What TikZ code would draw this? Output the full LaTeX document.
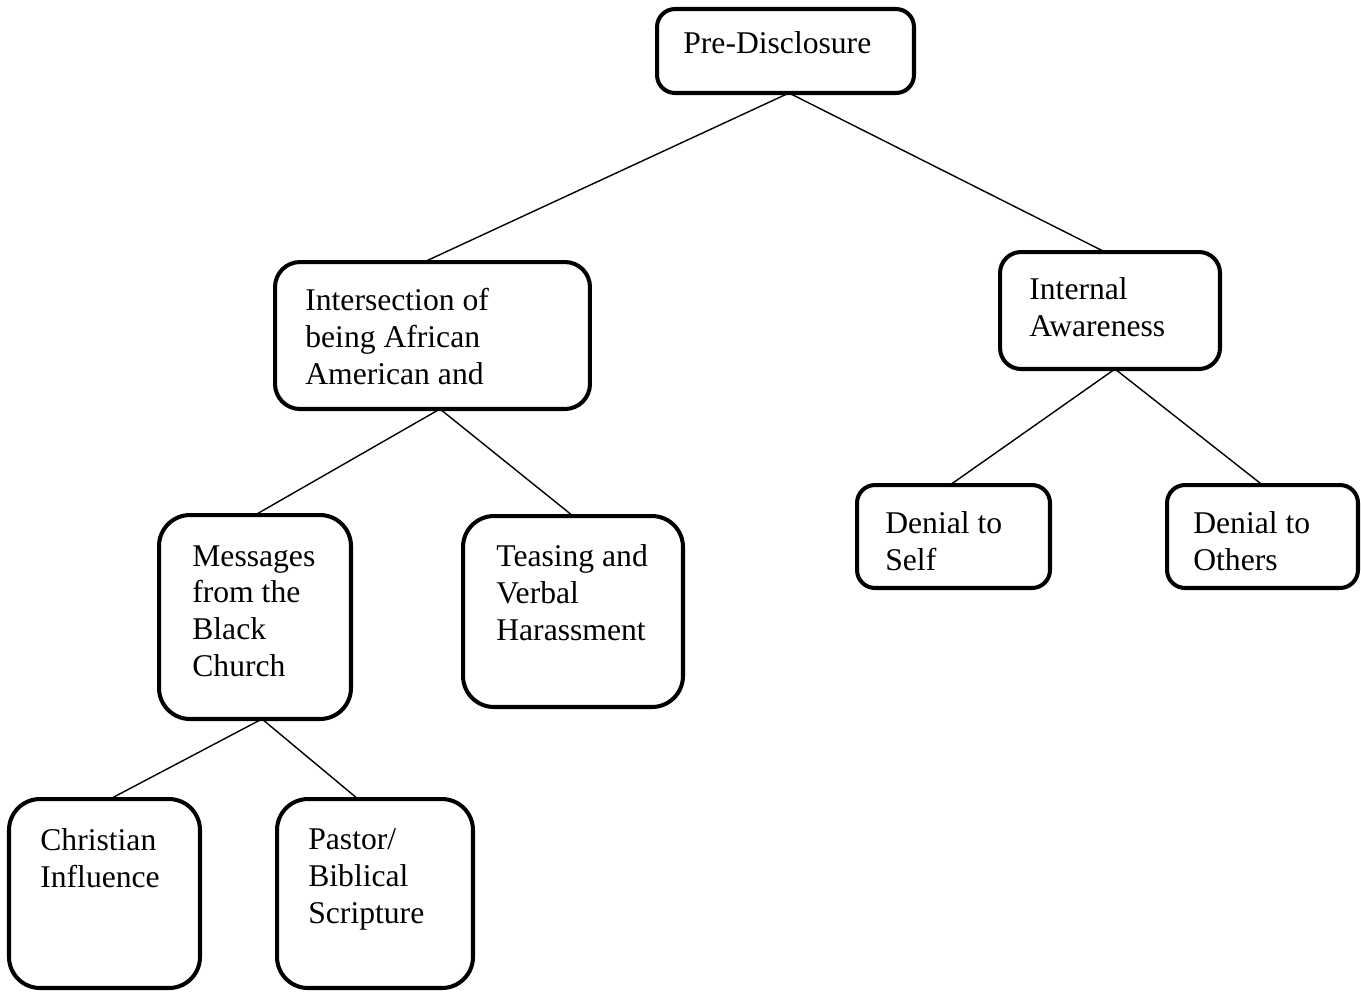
\documentclass[tikz,border=0pt]{standalone}
\usepackage{fontspec}
\setmainfont{Liberation Serif}
\usepackage{tikz}

\tikzset{
    box/.style={draw, line width=2.3pt, inner sep=0pt, outer sep=0pt},
    lbl/.style={anchor=north west, inner sep=0pt, align=left, font=\fontsize{18}{21}\selectfont},
    link/.style={line width=0.8pt}
}

\begin{document}
\begin{tikzpicture}[x=0.02cm, y=-0.02cm]
    \useasboundingbox[fill=white] (0,0) rectangle (1361,992);
    % BOXES
    \node[box, rounded corners=0.36cm, minimum width=5.14cm, minimum height=1.68cm] (pre) at (785.5,51) {};
    \node[box, rounded corners=0.5cm, minimum width=6.30cm, minimum height=2.94cm] (inter) at (432.5,335.5) {};
    \node[box, rounded corners=0.42cm, minimum width=4.40cm, minimum height=2.34cm] (aware) at (1110,310.5) {};
    \node[box, rounded corners=0.62cm, minimum width=3.84cm, minimum height=4.08cm] (church) at (255,617) {};
    \node[box, rounded corners=0.62cm, minimum width=4.40cm, minimum height=3.82cm] (tease) at (573,611.5) {};
    \node[box, rounded corners=0.36cm, minimum width=3.86cm, minimum height=2.06cm] (self) at (953.5,536.5) {};
    \node[box, rounded corners=0.36cm, minimum width=3.82cm, minimum height=2.06cm] (others) at (1262.5,536.5) {};
    \node[box, rounded corners=0.62cm, minimum width=3.82cm, minimum height=3.78cm] (christ) at (104.5,893.5) {};
    \node[box, rounded corners=0.62cm, minimum width=3.92cm, minimum height=3.78cm] (pastor) at (375,893.5) {};
    % TEXTS
    \node[lbl] (preT) at (683,31) {Pre-Disclosure};
    \node[lbl] (interT) at (305,288) {Intersection of\\being African\\American and};
    \node[lbl] (awareT) at (1029,277) {Internal\\Awareness};
    \node[lbl] (churchT) at (192,545) {Messages\\from the\\Black\\Church};
    \node[lbl] (teaseT) at (496,544) {Teasing and\\Verbal\\Harassment};
    \node[lbl] (selfT) at (885,511) {Denial to\\Self};
    \node[lbl] (othersT) at (1193,511) {Denial to\\Others};
    \node[lbl] (christT) at (40,828) {Christian\\Influence};
    \node[lbl] (pastorT) at (308,828) {Pastor/\\Biblical\\Scripture};
    % LINKS
    \draw[link] ([xshift=0.07cm]pre.south) -- ([xshift=-0.17cm]inter.north);
    \draw[link] ([xshift=0.07cm]pre.south) -- ([xshift=-0.1cm]aware.north);
    \draw[link] ([xshift=0.15cm]inter.south) -- (church.north);
    \draw[link] ([xshift=0.15cm]inter.south) -- (tease.north);
    \draw[link] ([xshift=0.1cm]aware.south) -- ([xshift=-0.07cm]self.north);
    \draw[link] ([xshift=0.1cm]aware.south) -- (others.north);
    \draw[link] ([xshift=0.14cm]church.south) -- ([xshift=0.11cm]christ.north);
    \draw[link] ([xshift=0.14cm]church.south) -- ([xshift=-0.34cm]pastor.north);
\end{tikzpicture}
\end{document}
